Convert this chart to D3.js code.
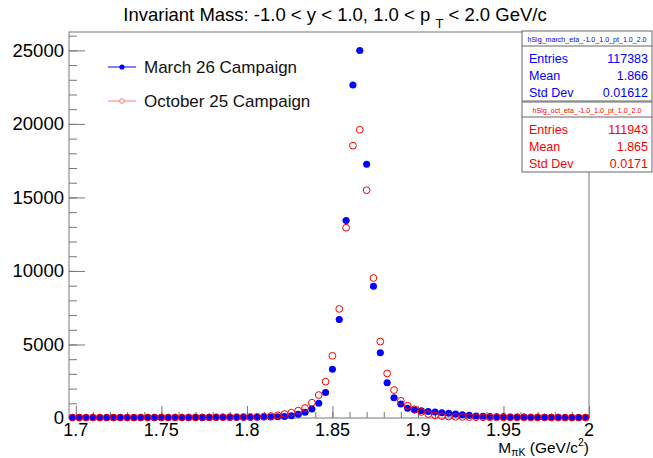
<!DOCTYPE html>
<html>
<head>
	<meta charset="utf-8">
	<title>Invariant Mass</title>
	<style>
		body { margin: 0; background: #fff; }
		svg { display: block; font-family: "Liberation Sans", Arial, sans-serif; }
		.axis path { display: none; }
		.axis line { stroke: #777; }
	</style>
	<script src="https://cdn.jsdelivr.net/npm/d3@7"></script>
</head>
<body>
<svg width="653" height="458"></svg>
<script>

	// 76 bins of 0.004 from 1.696 to 2.0
	var binLow = 1.696, binWidth = 0.004;

	var march = [
		30,
		30, 30, 30, 30, 30, 30, 30, 30, 30, 30,
		35, 35, 35, 35, 35, 35, 40, 40, 40, 40,
		45, 45, 45, 50, 50, 55, 55, 60, 70, 80,
		110, 160, 250, 390, 610, 1010, 1740, 3320, 6700, 13430,
		22640, 25000, 17250, 8960, 4430, 2400, 1380, 950, 660, 540,
		500, 450, 410, 360, 320, 270, 225, 180, 140, 120,
		100, 90, 80, 70, 65, 60, 55, 50, 50, 45,
		45, 40, 40, 40, 40
	];

	var october = [
		30,
		30, 30, 30, 30, 30, 30, 30, 30, 30, 35,
		35, 35, 35, 35, 40, 40, 40, 45, 45, 50,
		50, 55, 60, 60, 70, 75, 80, 100, 130, 180,
		270, 360, 500, 680, 1040, 1560, 2470, 4230, 7420, 12940,
		18520, 19600, 15490, 9520, 5200, 3030, 1900, 1170, 830, 590,
		410, 270, 180, 130, 100, 80, 70, 60, 55, 50,
		45, 45, 40, 40, 40, 35, 35, 35, 35, 30,
		30, 30, 30, 30, 30
	];

	var xTicks = [1.7, 1.75, 1.8, 1.85, 1.9, 1.95, 2.0];
	var xTickLabels = ["1.7", "1.75", "1.8", "1.85", "1.9", "1.95", "2"];
	var yTicks = [0, 5000, 10000, 15000, 20000, 25000];

	var legendNames = ["March 26 Campaign", "October 25 Campaign"];
	var statNames = ["hSig_march_eta_-1.0_1.0_pt_1.0_2.0", "hSig_oct_eta_-1.0_1.0_pt_1.0_2.0"];
	var statEntries = ["117383", "111943"];
	var statMean = ["1.866", "1.865"];
	var statStd = ["0.01612", "0.0171"];

	var blue = "#0000ff", red = "#ff0000";

	var svg = d3.select("svg");
	var frame = {left: 69, right: 589, top: 32, bottom: 418};

	var x = d3.scaleLinear().domain([1.696, 2.0]).range([frame.left, frame.right]);
	var y = d3.scaleLinear().domain([0, 26250]).range([frame.bottom, frame.top]);

	function toPoints(values) {
		return values.map(function(v, i) {
			return {c: binLow + binWidth * (i + 0.5), v: v};
		});
	}

	// frame
	svg.append("rect")
		.attr("x", frame.left).attr("y", frame.top)
		.attr("width", frame.right - frame.left).attr("height", frame.bottom - frame.top)
		.attr("fill", "none").attr("stroke", "#777").attr("stroke-width", 1);

	// x axis: ticks inside the frame
	var xMinor = d3.range(0, 31).map(function(i) { return 1.7 + i * 0.01; });
	svg.append("g")
		.attr("class", "axis")
		.attr("transform", "translate(0," + frame.bottom + ")")
		.call(d3.axisTop(x).tickValues(xMinor).tickSize(6).tickFormat(""));
	svg.append("g")
		.attr("class", "axis")
		.attr("transform", "translate(0," + frame.bottom + ")")
		.call(d3.axisTop(x).tickValues(xTicks).tickSize(12).tickFormat(""));
	svg.append("g")
		.selectAll("text")
		.data(xTicks)
		.enter().append("text")
			.attr("x", function(d) { return x(d); })
			.attr("y", frame.bottom + 18)
			.attr("text-anchor", "middle")
			.attr("font-size", 18)
			.text(function(d, i) { return xTickLabels[i]; });

	// y axis
	var yMinor = d3.range(0, 27).map(function(i) { return i * 1000; });
	svg.append("g")
		.attr("class", "axis")
		.attr("transform", "translate(" + frame.left + ",0)")
		.call(d3.axisRight(y).tickValues(yMinor).tickSize(8).tickFormat(""));
	svg.append("g")
		.attr("class", "axis")
		.attr("transform", "translate(" + frame.left + ",0)")
		.call(d3.axisRight(y).tickValues(yTicks).tickSize(16).tickFormat(""));
	svg.append("g")
		.selectAll("text")
		.data(yTicks)
		.enter().append("text")
			.attr("x", frame.left - 5)
			.attr("y", function(d) { return y(d); })
			.attr("dy", "0.34em")
			.attr("text-anchor", "end")
			.attr("font-size", 18.5)
			.text(function(d) { return d; });

	// axis title
	var xt = svg.append("text")
		.attr("x", frame.right)
		.attr("y", 453)
		.attr("text-anchor", "end")
		.attr("font-size", 15.5);
	xt.append("tspan").text("M");
	xt.append("tspan").attr("font-size", 10.5).attr("dy", 3).text("\u03c0K");
	xt.append("tspan").attr("dy", -3).text(" (GeV/c");
	xt.append("tspan").attr("font-size", 10.5).attr("dy", -7).text("2");
	xt.append("tspan").attr("dy", 7).text(")");

	// title
	var title = svg.append("text")
		.attr("x", 335)
		.attr("y", 21)
		.attr("text-anchor", "middle")
		.attr("font-size", 18.5);
	title.append("tspan").text("Invariant Mass: -1.0 < y < 1.0, 1.0 < p ");
	title.append("tspan").attr("font-size", 13).attr("dy", 7).text("T");
	title.append("tspan").attr("dy", -7).text(" < 2.0 GeV/c");

	// histograms
	function drawHist(values, color, open) {
		var pts = toPoints(values);
		var g = svg.append("g");
		if (!open) {
			g.selectAll("line")
				.data(pts)
				.enter().append("line")
					.attr("x1", function(d) { return x(d.c - binWidth / 2); })
					.attr("x2", function(d) { return x(d.c + binWidth / 2); })
					.attr("y1", function(d) { return y(d.v); })
					.attr("y2", function(d) { return y(d.v); })
					.attr("stroke", color).attr("stroke-width", 1);
		}
		g.selectAll("circle")
			.data(pts)
			.enter().append("circle")
				.attr("cx", function(d) { return x(d.c); })
				.attr("cy", function(d) { return y(d.v); })
				.attr("r", open ? 3.4 : 3.5)
				.attr("fill", open ? "none" : color)
				.attr("stroke", open ? color : "none")
				.attr("stroke-width", 1);
	}

	drawHist(march, blue, false);
	drawHist(october, red, true);

	// legend
	var legend = svg.append("g")
		.selectAll("g")
		.data(legendNames)
		.enter().append("g")
			.attr("transform", function(d, i) { return "translate(0," + (67 + i * 34) + ")"; });
	legend.append("line")
		.attr("x1", 108).attr("x2", 136)
		.attr("stroke", function(d, i) { return i == 0 ? blue : "#f77"; })
		.attr("stroke-width", 1);
	legend.append("circle")
		.attr("cx", 122).attr("r", function(d, i) { return i == 0 ? 2.6 : 2.3; })
		.attr("fill", function(d, i) { return i == 0 ? blue : "#fff"; })
		.attr("stroke", function(d, i) { return i == 0 ? "none" : "#f77"; });
	legend.append("text")
		.attr("x", 144)
		.attr("dy", "0.36em")
		.attr("font-size", 17)
		.attr("fill", "#111")
		.text(function(d) { return d; });

	// stats boxes
	var boxTop = [31, 102];
	var boxColor = [blue, red];
	for (var i = 0; i < 2; i++) {
		var b = svg.append("g").attr("transform", "translate(522," + boxTop[i] + ")");
		b.append("rect")
			.attr("width", 130).attr("height", 70)
			.attr("fill", "#fff").attr("stroke", "#666").attr("stroke-width", 1);
		b.append("line")
			.attr("x1", 0).attr("x2", 130).attr("y1", 15).attr("y2", 15)
			.attr("stroke", "#666");
		b.append("text")
			.attr("x", 65).attr("y", 10.5)
			.attr("text-anchor", "middle")
			.attr("font-size", 7.1)
			.attr("fill", boxColor[i])
			.text(statNames[i]);
		var rows = [["Entries", statEntries[i]], ["Mean", statMean[i]], ["Std Dev", statStd[i]]];
		for (var j = 0; j < rows.length; j++) {
			b.append("text")
				.attr("x", 7).attr("y", 31.5 + j * 17)
				.attr("font-size", 12.5)
				.attr("fill", boxColor[i])
				.text(rows[j][0]);
			b.append("text")
				.attr("x", 126).attr("y", 31.5 + j * 17)
				.attr("text-anchor", "end")
				.attr("font-size", 12.5)
				.attr("fill", boxColor[i])
				.text(rows[j][1]);
		}
	}

</script>
</body>
</html>
